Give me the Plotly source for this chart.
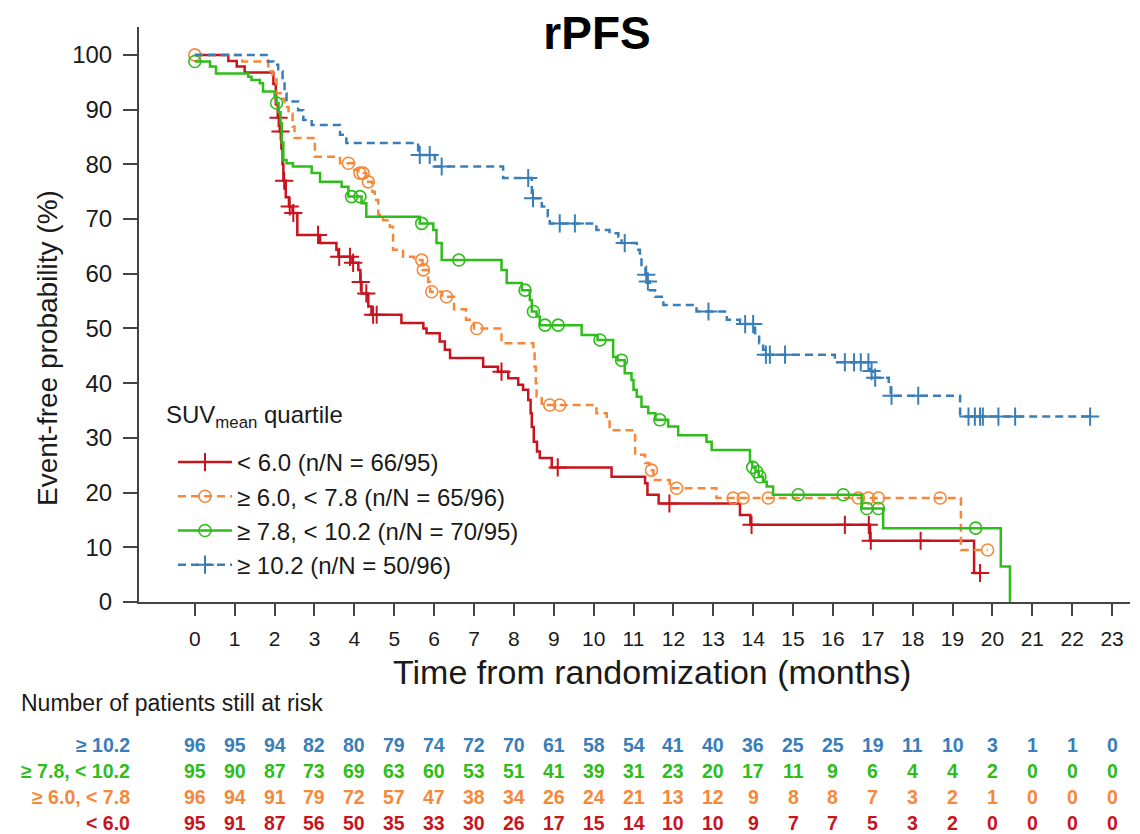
import numpy as np
import plotly.graph_objects as go

# ---------------- data ----------------
months = list(range(24))

legend_labels = ["&lt; 6.0 (n/N = 66/95)", "≥ 6.0, &lt; 7.8 (n/N = 65/96)",
                 "≥ 7.8, &lt; 10.2 (n/N = 70/95)", "≥ 10.2 (n/N = 50/96)"]
row_labels = ["≥ 10.2", "≥ 7.8, &lt; 10.2", "≥ 6.0, &lt; 7.8", "&lt; 6.0"]

red_t = [0, 0.84, 1.05, 1.25, 1.97, 2.03, 2.08, 2.13, 2.17, 2.2, 2.22, 2.28, 2.36, 2.45, 2.57,
         3.14, 3.55, 3.6, 3.95, 4.1, 4.15, 4.18, 4.35, 4.43, 5.18, 5.73, 5.81, 6.14, 6.27, 6.4,
         7.23, 7.6, 7.86, 8.11, 8.23, 8.36, 8.42, 8.45, 8.5, 8.58, 8.65, 8.95, 10.45, 11.29,
         11.35, 11.63, 13.67, 13.93, 16.93, 19.54, 19.69]
red_s = [100, 98.9, 97.9, 96.8, 94.7, 91.0, 88.5, 86.0, 82.9, 80.0, 77.0, 74.0, 72.3, 71.1, 67.1,
         65.6, 64.4, 63.1, 62.0, 60.7, 58.5, 56.4, 54.0, 52.5, 51.0, 50.0, 49.1, 47.6, 46.1, 44.6,
         43.0, 42.1, 40.9, 39.7, 38.8, 36.9, 34.5, 32.0, 29.3, 27.5, 26.3, 24.6, 22.9, 21.7,
         19.6, 18.0, 15.9, 14.1, 11.2, 5.3, 5.3]
red_cens = [2.1, 2.15, 2.24, 2.38, 2.47, 3.09, 3.62, 3.89, 3.97, 4.16, 4.3, 4.47, 4.56, 7.69,
            9.1, 11.9, 13.96, 16.3, 16.9, 16.95, 18.2, 19.69]

orange_t = [0, 1.19, 1.84, 1.95, 2.05, 2.15, 2.25, 2.35, 2.45, 2.5, 3.01, 3.64, 4.0, 4.1, 4.3,
            4.45, 4.51, 4.6, 4.72, 4.89, 4.97, 5.22, 5.5, 5.71, 5.85, 5.9, 6.2, 6.5, 6.8, 7.0,
            7.69, 8.49, 8.52, 8.55, 8.57, 8.7, 10.07, 10.33, 10.4, 11.04, 11.29, 11.4, 11.5,
            11.91, 13.08, 19.21, 19.88]
orange_s = [100, 98.8, 97.0, 95.5, 93.0, 92.0, 90.5, 89.3, 86.9, 84.8, 81.4, 80.2, 79.0, 78.4,
            76.8, 75.0, 73.5, 70.8, 69.8, 68.6, 64.4, 63.1, 62.5, 60.7, 58.5, 56.7, 55.8, 53.5,
            51.6, 50.0, 47.3, 45.8, 43.0, 40.0, 37.5, 36.0, 34.5, 33.0, 31.4, 26.9, 25.4, 24.1,
            22.3, 20.8, 19.0, 9.5, 9.5]
orange_cens = [0, 3.85, 4.14, 4.22, 4.35, 5.69, 5.73, 5.94, 6.31, 7.07, 8.9, 9.15, 11.45, 12.08,
               13.5, 13.75, 14.38, 16.64, 16.89, 17.14, 18.69, 19.88]

green_t = [0, 0.38, 0.53, 1.34, 1.42, 1.63, 1.71, 2.0, 2.05, 2.1, 2.15, 2.18, 2.22, 2.3, 2.46,
           2.93, 3.14, 3.68, 3.85, 4.18, 4.3, 5.64, 5.98, 6.06, 6.19, 7.69, 7.82, 8.2, 8.4, 8.45,
           8.57, 8.65, 9.7, 10.1, 10.49, 10.6, 10.78, 10.95, 11.0, 11.08, 11.2, 11.37, 11.55,
           11.87, 12.12, 12.83, 12.96, 13.92, 13.98, 14.06, 14.14, 14.25, 14.34, 14.5, 16.72,
           17.26, 20.21, 20.44]
green_s = [98.8, 97.9, 96.6, 96.0, 95.4, 94.8, 93.3, 92.4, 91.2, 89.5, 87.5, 84.0, 80.8, 80.2,
           79.6, 78.4, 76.8, 75.9, 74.1, 72.9, 70.4, 69.2, 68.0, 65.6, 62.5, 60.7, 58.3, 57.0,
           55.2, 53.1, 52.2, 50.6, 48.8, 47.9, 44.8, 44.2, 41.8, 40.6, 38.8, 37.5, 35.7, 34.5,
           33.3, 32.1, 30.5, 29.3, 27.8, 25.6, 24.6, 23.8, 22.9, 22.0, 21.1, 19.6, 17.1, 13.5,
           6.5, 0.0]
green_cens = [0, 2.05, 3.93, 4.14, 5.69, 6.62, 8.28, 8.49, 8.78, 9.11, 10.16, 10.7, 11.66, 13.99,
              14.09, 14.17, 15.13, 16.26, 16.85, 17.14, 19.58]

blue_t = [0, 1.84, 1.97, 2.09, 2.2, 2.25, 2.3, 2.59, 2.72, 2.93, 3.64, 3.8, 5.6, 6.02, 7.73,
          8.45, 8.7, 8.85, 8.9, 10.07, 10.4, 10.62, 10.7, 11.08, 11.16, 11.2, 11.3, 11.35, 11.41,
          11.54, 11.75, 12.58, 13.34, 13.67, 14.05, 14.15, 14.25, 14.3, 16.05, 16.93, 17.0,
          17.4, 17.45, 19.19, 22.45]
blue_s = [100, 98.8, 98.2, 97.0, 95.4, 93.0, 91.5, 89.9, 88.1, 87.2, 85.4, 83.9, 81.7, 79.6, 77.5,
          73.8, 72.3, 70.5, 69.2, 68.0, 67.4, 66.8, 65.6, 64.4, 63.1, 61.3, 59.8, 58.6, 57.0,
          55.8, 54.3, 53.1, 51.6, 50.8, 48.8, 47.3, 46.1, 45.2, 43.8, 42.2, 41.0, 39.5, 37.7,
          33.9, 33.9]
blue_cens = [5.64, 5.89, 6.19, 8.36, 8.48, 9.15, 9.53, 10.78, 11.32, 11.36, 12.88, 13.8, 14.0,
             14.32, 14.42, 14.8, 16.3, 16.53, 16.7, 16.89, 16.97, 17.06, 17.47, 18.14, 19.4,
             19.56, 19.69, 19.76, 20.15, 20.57, 22.45]

risk_blue = [96, 95, 94, 82, 80, 79, 74, 72, 70, 61, 58, 54, 41, 40, 36, 25, 25, 19, 11, 10, 3, 1, 1, 0]
risk_green = [95, 90, 87, 73, 69, 63, 60, 53, 51, 41, 39, 31, 23, 20, 17, 11, 9, 6, 4, 4, 2, 0, 0, 0]
risk_orange = [96, 94, 91, 79, 72, 57, 47, 38, 34, 26, 24, 21, 13, 12, 9, 8, 8, 7, 3, 2, 1, 0, 0, 0]
risk_red = [95, 91, 87, 56, 50, 35, 33, 30, 26, 17, 15, 14, 10, 10, 9, 7, 7, 5, 3, 2, 0, 0, 0, 0]

# ---------------- styling ----------------
FONT = "Liberation Sans, Arial, Helvetica, sans-serif"
TXT = "#1a1a1a"
C_RED = "#C8141E"
C_ORANGE = "#F5883A"
C_GREEN = "#2EBD1A"
C_BLUE = "#3A7EB8"
AX = "#444444"

# page offset (browser body margin) -> figure sized so that it ends at the window edge
OFF = 8
W, H = 1140 - OFF, 834 - OFF
PL, PR, PT, PB = 139, 1130, 27, 602          # plot area in window pixels
L, R, T, B = PL - OFF, W - (PR - OFF), PT - OFF, H - (PB - OFF)
PW, PH = PR - PL, PB - PT


def px(xs):
    return (xs - PL) / PW


def py(ys):
    return (PB - ys) / PH


def at(times, surv, tc):
    idx = np.searchsorted(np.array(times), np.array(tc), side="right") - 1
    return np.array(surv)[idx]


series = [
    (red_t, red_s, red_cens, C_RED, "solid", "cross-thin", legend_labels[0]),
    (orange_t, orange_s, orange_cens, C_ORANGE, "8px,5px", "circle-open", legend_labels[1]),
    (green_t, green_s, green_cens, C_GREEN, "solid", "circle-open", legend_labels[2]),
    (blue_t, blue_s, blue_cens, C_BLUE, "8px,5px", "cross-thin", legend_labels[3]),
]

fig = go.Figure()
for t, s, cens, col, dash, sym, lab in series:
    fig.add_trace(go.Scatter(x=t, y=s, mode="lines",
                             line=dict(color=col, width=2.5, dash=dash, shape="hv"),
                             showlegend=False, hoverinfo="skip"))
    msize = 13 if sym == "cross-thin" else 12
    mline = 2 if sym == "cross-thin" else 1.6
    fig.add_trace(go.Scatter(x=cens, y=at(t, s, cens), mode="markers",
                             marker=dict(symbol=sym, size=msize, color=col,
                                         line=dict(color=col, width=mline)),
                             showlegend=False, cliponaxis=False, hoverinfo="skip"))
    fig.add_trace(go.Scatter(x=[None], y=[None], mode="lines+markers", name=lab,
                             line=dict(color=col, width=2.5, dash=dash),
                             marker=dict(symbol=sym, size=msize, color=col,
                                         line=dict(color=col, width=mline)),
                             legendgroup=lab))

fig.update_layout(
    width=W, height=H,
    margin=dict(l=L, r=R, t=T, b=B),
    paper_bgcolor="white", plot_bgcolor="white",
    font=dict(family=FONT, color=TXT),
    title=dict(text="<b>rPFS</b>", x=(597 - OFF) / W, xanchor="center",
               y=1 - (33 - OFF) / H, yanchor="middle",
               font=dict(size=46, family=FONT, color="black")),
    showlegend=True,
    legend=dict(x=px(173), y=py(440), xanchor="left", yanchor="top",
                bgcolor="rgba(0,0,0,0)", font=dict(size=24, family=FONT, color=TXT),
                traceorder="grouped", tracegroupgap=0, itemwidth=54),
    xaxis=dict(range=[-1.4, 23.45], tickvals=months, ticktext=[str(m) for m in months],
               showline=True, linecolor=AX, linewidth=2, ticks="outside", ticklen=12,
               tickwidth=2, tickcolor=AX, showgrid=False, zeroline=False,
               ticklabelstandoff=5,
               tickfont=dict(size=21, family=FONT, color=TXT)),
    yaxis=dict(range=[0, 105.1], tickvals=list(range(0, 101, 10)),
               showline=True, linecolor=AX, linewidth=2, ticks="outside", ticklen=14,
               tickwidth=2, tickcolor=AX, showgrid=False, zeroline=False,
               ticklabelstandoff=6,
               tickfont=dict(size=24, family=FONT, color=TXT)),
)

ann = []
ann.append(dict(text="Time from randomization (months)", x=px(652), xref="paper",
                y=py(672), yref="paper", xanchor="center", yanchor="middle",
                showarrow=False, font=dict(size=34, family=FONT, color=TXT)))
ann.append(dict(text="Event-free probability (%)", x=px(47), xref="paper",
                y=py(348), yref="paper", xanchor="center", yanchor="middle",
                textangle=-90, showarrow=False, font=dict(size=28, family=FONT, color=TXT)))
ann.append(dict(text="SUV<sub>mean</sub> quartile", x=px(164), xref="paper",
                y=py(416), yref="paper", xanchor="left", yanchor="middle",
                showarrow=False, font=dict(size=24, family=FONT, color=TXT)))
ann.append(dict(text="Number of patients still at risk", x=px(19), xref="paper",
                y=py(703), yref="paper", xanchor="left", yanchor="middle",
                showarrow=False, font=dict(size=23, family=FONT, color=TXT)))
rows = [(row_labels[0], risk_blue, C_BLUE, 745), (row_labels[1], risk_green, C_GREEN, 771),
        (row_labels[2], risk_orange, C_ORANGE, 797), (row_labels[3], risk_red, C_RED, 823)]
for lab, vals, col, ypx in rows:
    yp = py(ypx)
    ann.append(dict(text=f"<b>{lab}</b>", x=px(132), xref="paper", y=yp,
                    yref="paper", xanchor="right", yanchor="middle", showarrow=False,
                    font=dict(size=19.5, family=FONT, color=col)))
    for m, v in zip(months, vals):
        ann.append(dict(text=f"<b>{v}</b>", x=m, xref="x", y=yp, yref="paper",
                        xanchor="center", yanchor="middle", showarrow=False,
                        font=dict(size=19.5, family=FONT, color=col)))
fig.update_layout(annotations=ann)

fig.write_html("out.html")
